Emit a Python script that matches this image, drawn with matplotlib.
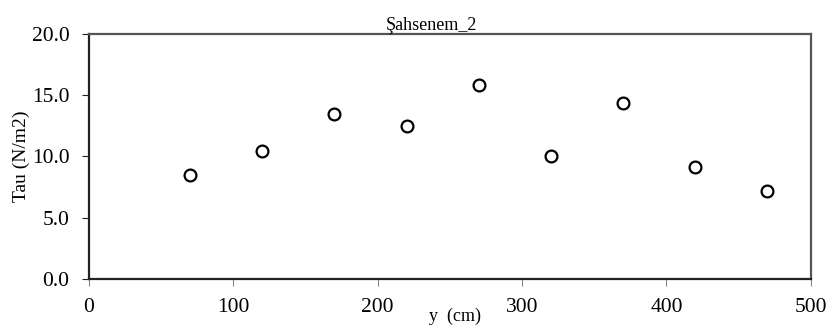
import matplotlib
matplotlib.use("Agg")
import matplotlib.pyplot as plt
from matplotlib.ticker import MultipleLocator, FormatStrFormatter

plt.rcParams['font.family'] = ['Liberation Serif', 'DejaVu Serif']

# data
y_cm = [70, 120, 170, 220, 270, 320, 370, 420, 470]
tau = [8.45, 10.45, 13.45, 12.5, 15.85, 10.0, 14.35, 9.1, 7.2]

fig = plt.figure(figsize=(8.29, 3.29), dpi=100)
ax = fig.add_axes([0.1074, 0.152, 0.8706, 0.745])

ax.plot(y_cm, tau, linestyle='none', marker='o', markersize=8.5,
        markerfacecolor='white', markeredgecolor='black', markeredgewidth=1.6)

ax.set_xlim(0, 500)
ax.set_ylim(0, 20)
ax.xaxis.set_major_locator(MultipleLocator(100))
ax.yaxis.set_major_locator(MultipleLocator(5))
ax.yaxis.set_major_formatter(FormatStrFormatter('%.1f'))

for side in ['left', 'bottom']:
    ax.spines[side].set_color('#222222')
    ax.spines[side].set_linewidth(1.6)
for side in ['top', 'right']:
    ax.spines[side].set_color('#555555')
    ax.spines[side].set_linewidth(1.6)

ax.tick_params(axis='both', direction='out', labelsize=15.5, colors='#222222',
               width=0.8, length=5)
ax.tick_params(axis='x', pad=9, colors='#888888', labelcolor='black')
ax.tick_params(axis='y', pad=9, labelcolor='black')

ax.set_title('Şahsenem_2', fontsize=13, pad=3, x=0.475)
ax.set_xlabel('y  (cm)', fontsize=13, labelpad=-7, x=0.507)
ax.set_ylabel('Tau (N/m2)', fontsize=14, labelpad=1)

fig.savefig('out.png', dpi=100)
